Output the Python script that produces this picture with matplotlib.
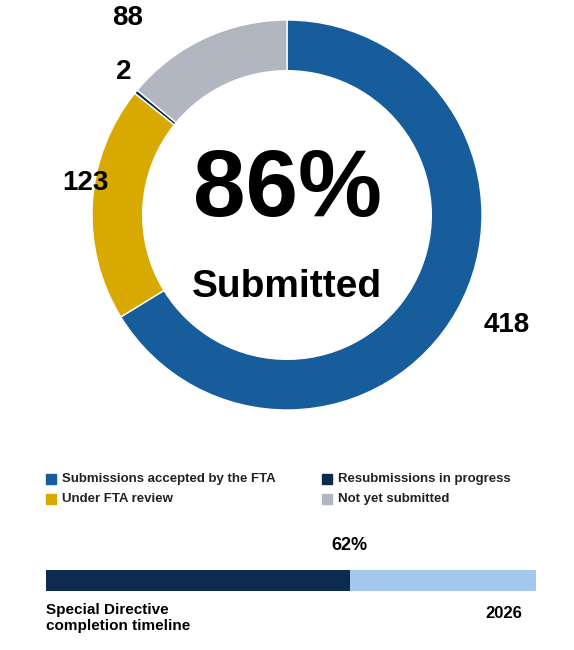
import matplotlib.pyplot as plt

plt.rcParams['font.family'] = ['Liberation Sans', 'DejaVu Sans']

labels = ['Submissions accepted by the FTA', 'Under FTA review', 'Resubmissions in progress', 'Not yet submitted']
values = [418, 123, 2, 88]
colors = ['#175D9C', '#D8A900', '#0C2A4B', '#B1B6C0']
submitted_pct = '86%'
timeline_pct = 62
timeline_year = '2026'

W, H = 574, 650
fig = plt.figure(figsize=(W / 100, H / 100), dpi=100)

# donut
ax = fig.add_axes([92 / W, 1 - 410 / H, 390 / W, 390 / H])
ax.pie(values, colors=colors, startangle=90, counterclock=False,
       wedgeprops=dict(width=0.26, edgecolor='white', linewidth=1))
ax.set_xlim(-1, 1)
ax.set_ylim(-1, 1)
ax.set_aspect('equal')
ax.text(0, 0.12, submitted_pct, ha='center', va='center', fontsize=68, fontweight='bold')
ax.text(0, -0.37, 'Submitted', ha='center', va='center', fontsize=28, fontweight='bold')

def ft(x, y, s, **kw):
    fig.text(x / W, 1 - y / H, s, **kw)

lab_pos = [(484, 325, 'left'), (62, 183, 'left'), (124, 72, 'center'), (128, 18, 'center')]
for v, (x, y, ha) in zip(values, lab_pos):
    ft(x, y, str(v), ha=ha, va='center', fontsize=20, fontweight='bold')

# legend
leg_pos = [(46, 479), (46, 499), (322, 479), (322, 499)]
for lab, c, (x, y) in zip(labels, colors, leg_pos):
    fig.patches.append(plt.Rectangle((x / W, 1 - (y + 5) / H), 10 / W, 10 / H,
                                     transform=fig.transFigure, color=c))
    ft(x + 16, y, lab, ha='left', va='center', fontsize=9.5, fontweight='bold', color='#222222')

# timeline bar
bx = fig.add_axes([46 / W, 1 - 591 / H, 490 / W, 21 / H])
bx.barh([0], [timeline_pct], color='#0D2B4E', height=1)
bx.barh([0], [100 - timeline_pct], left=[timeline_pct], color='#A4C8EC', height=1)
bx.set_xlim(0, 100)
bx.set_ylim(-0.5, 0.5)
bx.axis('off')
ft(46 + 490 * timeline_pct / 100, 545, f'{timeline_pct}%', ha='center', va='center', fontsize=13, fontweight='bold')
ft(46, 618, 'Special Directive\ncompletion timeline', ha='left', va='center', fontsize=11,
   fontweight='bold', linespacing=1.15)
ft(522, 614, timeline_year, ha='right', va='center', fontsize=12, fontweight='bold')

fig.savefig('out.png', dpi=100, facecolor='white')
